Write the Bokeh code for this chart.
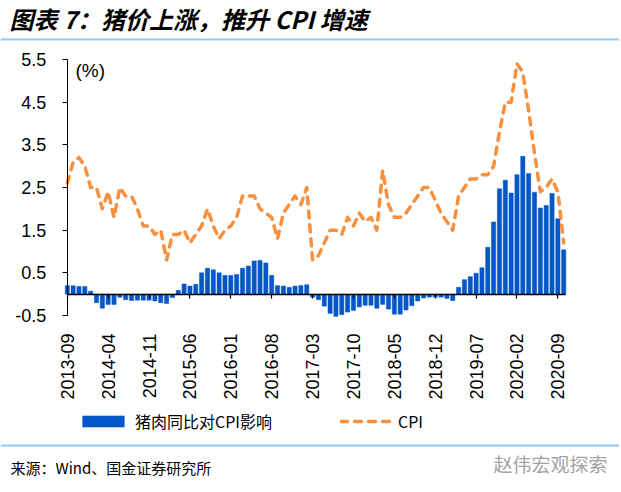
import math
from bokeh.plotting import figure
from bokeh.models import (Range1d, FixedTicker, LinearAxis, Label, Legend, LegendItem,
                          Span, ColumnDataSource)
from bokeh.embed import file_html
from bokeh.resources import INLINE

# ---------------- data ----------------
tick_labels = ["2013-09", "2014-04", "2014-11", "2015-06", "2016-01", "2016-08", "2017-03",
               "2017-10", "2018-05", "2018-12", "2019-07", "2020-02", "2020-09"]

pork_contrib = [0.20, 0.20, 0.18, 0.18, 0.07, -0.20, -0.33, -0.24, -0.24, -0.07,
                -0.13, -0.15, -0.14, -0.14, -0.14, -0.16, -0.20, -0.22, -0.08, 0.09,
                0.24, 0.19, 0.23, 0.50, 0.61, 0.57, 0.50, 0.44, 0.44, 0.46,
                0.61, 0.66, 0.78, 0.79, 0.73, 0.44, 0.20, 0.19, 0.16, 0.19,
                0.20, 0.22, -0.07, -0.13, -0.28, -0.45, -0.52, -0.48, -0.42, -0.38,
                -0.30, -0.26, -0.26, -0.33, -0.24, -0.35, -0.47, -0.47, -0.37, -0.27,
                -0.16, -0.09, -0.07, -0.07, -0.07, -0.10, -0.15, 0.16, 0.34, 0.41,
                0.49, 0.62, 1.10, 1.69, 2.47, 2.67, 2.37, 2.80, 3.23, 2.83,
                2.39, 2.02, 2.08, 2.36, 1.77, 1.04]

cpi = [2.6, 3.1, 3.2, 3.0, 2.5, 2.5, 2.0, 2.4, 1.8, 2.5,
       2.3, 2.3, 2.0, 1.6, 1.6, 1.4, 1.5, 0.8, 1.4, 1.4,
       1.5, 1.2, 1.4, 1.6, 2.0, 1.6, 1.3, 1.5, 1.6, 1.8,
       2.3, 2.3, 2.3, 2.0, 1.9, 1.8, 1.3, 1.9, 2.1, 2.3,
       2.1, 2.5, 0.8, 0.9, 1.2, 1.5, 1.5, 1.4, 1.8, 1.6,
       1.9, 1.7, 1.8, 1.5, 2.9, 2.1, 1.8, 1.8, 1.9, 2.1,
       2.3, 2.5, 2.5, 2.2, 1.9, 1.7, 1.5, 2.3, 2.5, 2.7,
       2.7, 2.8, 2.8, 3.0, 3.8, 4.5, 4.5, 5.4, 5.2, 4.3,
       3.3, 2.4, 2.5, 2.7, 2.4, 1.2]

y_ticks = [-0.5, 0.5, 1.5, 2.5, 3.5, 4.5, 5.5]
label_step = 7

series_names = ["猪肉同比对CPI影响", "CPI"]
title_text = "图表 7：猪价上涨，推升 CPI 增速"
source_text = "来源：Wind、国金证券研究所"
mark_text = "赵伟宏观探索"

# ---------------- styling / layout (pixels) ----------------
BLUE = "#0457C6"
ORANGE = "#F7913F"
SEP = "#8DCBF0"
CJK = "Noto Sans CJK SC"
LAT = "Liberation Sans"

W, H = 619, 490
AX_X = 66.8          # pixel x of the value axis (first month)
PX_PER_MONTH = 5.84
TOP_PX, BOT_PX = 59.0, 315.0   # pixel y of the top / bottom tick values

idx = list(range(len(pork_contrib)))
tick_pos = [i * label_step for i in range(len(tick_labels))]
src = ColumnDataSource(dict(x=idx, pork=pork_contrib, cpi=cpi))

x0 = -AX_X / PX_PER_MONTH
x1 = x0 + W / PX_PER_MONTH
ky = (BOT_PX - TOP_PX) / (y_ticks[-1] - y_ticks[0])
y1 = y_ticks[-1] + TOP_PX / ky
y0 = y1 - H / ky


def ydata(img_y):
    return y1 - img_y / ky


p = figure(width=W, height=H, output_backend="svg", toolbar_location=None,
           x_range=Range1d(x0, x1), y_range=Range1d(y0, y1),
           x_axis_location=None, y_axis_location=None, min_border=0)
p.outline_line_color = None
p.grid.visible = False
p.background_fill_color = "white"
p.border_fill_color = "white"

bars = p.vbar(x="x", top="pork", bottom=0, width=0.72, source=src,
              fill_color=BLUE, line_color=BLUE, line_width=0.5)
line = p.line(x="x", y="cpi", source=src, line_color=ORANGE, line_width=3.5,
              line_dash="7 7", line_cap="round", line_join="round")

# value axis
ya = LinearAxis(fixed_location=0, bounds=(y_ticks[0], y_ticks[-1]),
                ticker=FixedTicker(ticks=y_ticks),
                major_label_overrides={t: f"{t:.1f}" for t in y_ticks})
ya.major_label_text_font = LAT
ya.major_label_text_font_size = "18px"
ya.major_label_text_color = "black"
ya.axis_line_color = "black"
ya.axis_line_width = 1
ya.major_tick_line_color = "black"
ya.major_tick_out = 5
ya.major_tick_in = 0
ya.minor_tick_line_color = None
ya.major_label_standoff = 16
p.add_layout(ya, "left")

# date labels under the plot area
xa = LinearAxis(fixed_location=y_ticks[0], ticker=FixedTicker(ticks=tick_pos),
                major_label_overrides={t: s for t, s in zip(tick_pos, tick_labels)})
xa.major_label_orientation = math.pi / 2
xa.major_label_text_font = LAT
xa.major_label_text_font_size = "18px"
xa.major_label_text_color = "black"
xa.axis_line_color = None
xa.major_tick_line_color = None
xa.minor_tick_line_color = None
xa.major_label_standoff = 12
p.add_layout(xa, "below")

# zero line with small downward ticks
za = LinearAxis(fixed_location=0, bounds=(0, idx[-1] + 0.3),
                ticker=FixedTicker(ticks=tick_pos),
                major_label_overrides={t: "" for t in tick_pos},
                major_label_text_font_size="1px", major_label_standoff=0)
za.axis_line_color = "black"
za.axis_line_width = 1.5
za.major_tick_line_color = "black"
za.major_tick_line_width = 1.2
za.major_tick_out = 4
za.major_tick_in = 0
za.minor_tick_line_color = None
p.add_layout(za, "below")

p.add_layout(Label(x=1.4, y=5.5, text="(%)", text_font=LAT, text_font_size="19px",
                   text_color="black", text_baseline="top", text_align="left"))

# legend
legend = Legend(items=[LegendItem(label=series_names[0], renderers=[bars]),
                       LegendItem(label=series_names[1], renderers=[line])],
                orientation="horizontal", location=(77, H - 433),
                label_text_font=CJK, label_text_font_size="16px", label_text_color="black",
                glyph_width=52, glyph_height=14, spacing=68, label_standoff=6,
                padding=0, margin=0, border_line_alpha=0, background_fill_alpha=0)
p.add_layout(legend)

# title, separators, source
p.add_layout(Label(x=9, y=H - 18, x_units="screen", y_units="screen",
                   text=title_text, text_font=CJK, text_font_size="24px",
                   text_font_style="bold italic", text_color="black",
                   text_baseline="middle", text_align="left"))
p.add_layout(Span(location=ydata(39), dimension="width", line_color=SEP, line_width=2))
p.add_layout(Span(location=ydata(445), dimension="width", line_color=SEP, line_width=2))
p.add_layout(Label(x=10, y=H - 467, x_units="screen", y_units="screen",
                   text=source_text, text_font=CJK, text_font_size="15px",
                   text_color="black", text_baseline="middle", text_align="left"))
p.add_layout(Label(x=607, y=H - 463, x_units="screen", y_units="screen",
                   text=mark_text, text_font=CJK, text_font_size="19px",
                   text_color="#A3A3A3", text_baseline="middle", text_align="right"))

open("out.html", "w").write(file_html(p, INLINE))
